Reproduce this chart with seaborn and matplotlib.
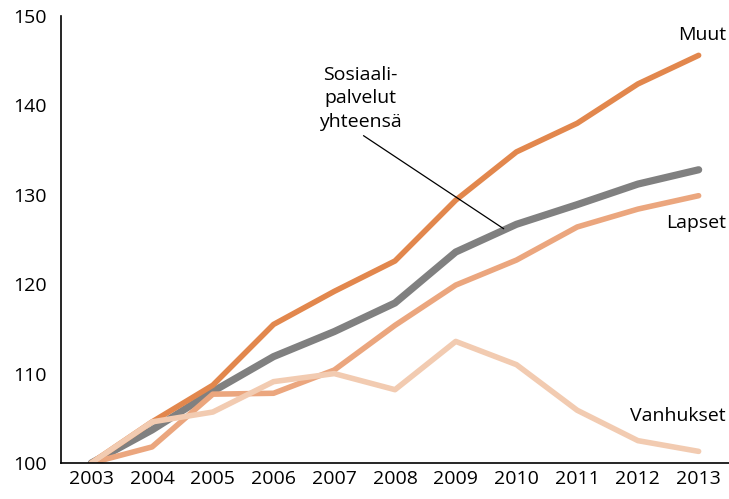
import matplotlib
matplotlib.use("Agg")
import matplotlib.pyplot as plt
import seaborn as sns
import pandas as pd

# Index 2003 = 100
years = [2003, 2004, 2005, 2006, 2007, 2008, 2009, 2010, 2011, 2012, 2013]
muut = [100, 104.6, 108.7, 115.5, 119.2, 122.6, 129.4, 134.8, 138.0, 142.4, 145.6]
yhteensa = [100, 103.7, 108.0, 111.9, 114.7, 117.9, 123.6, 126.7, 128.9, 131.2, 132.8]
lapset = [100, 101.8, 107.7, 107.8, 110.4, 115.4, 119.9, 122.7, 126.4, 128.4, 129.9]
vanhukset = [100, 104.6, 105.7, 109.1, 110.0, 108.2, 113.6, 111.0, 105.9, 102.5, 101.3]

series_names = ["Sosiaalipalvelut yhteensä", "Muut", "Lapset", "Vanhukset"]
series_values = [yhteensa, muut, lapset, vanhukset]
colors = {"Vanhukset": "#F2CBB1", "Lapset": "#EBA67E",
          "Sosiaalipalvelut yhteensä": "#808080", "Muut": "#E2874D"}
widths = {"Vanhukset": 4.0, "Lapset": 4.0, "Sosiaalipalvelut yhteensä": 5.2, "Muut": 4.0}
draw_order = ["Sosiaalipalvelut yhteensä", "Lapset", "Muut", "Vanhukset"]

rows = []
for name, vals in zip(series_names, series_values):
    for i, v in enumerate(vals):
        rows.append({"pos": i, "year": years[i], "value": v, "series": name})
df = pd.DataFrame(rows)

sns.set_style("white")
plt.rcParams["font.family"] = ["Open Sans", "DejaVu Sans"]
plt.rcParams["text.color"] = "black"
plt.rcParams["xtick.color"] = "black"
plt.rcParams["ytick.color"] = "black"

FS = 14

fig = plt.figure(figsize=(7.29, 4.99), dpi=100)
ax = fig.add_axes([61 / 729, 36 / 499, 668 / 729, 447 / 499])

for name in draw_order:
    sub = df[df["series"] == name]
    sns.lineplot(data=sub, x="pos", y="value", color=colors[name],
                 linewidth=widths[name], ax=ax, legend=False,
                 solid_capstyle="round", solid_joinstyle="round")

ax.set_xlim(-0.5, len(years) - 0.5)
ax.set_ylim(100, 150)
ax.set_yticks([100, 110, 120, 130, 140, 150])
ax.set_xticks([i + 0.5 for i in range(len(years))])
ax.set_xticklabels([])
ax.set_xticks(range(len(years)), minor=True)
ax.set_xticklabels([str(y) for y in years], minor=True)
ax.tick_params(axis="x", which="major", direction="in", length=6, width=0.8, color="#555555")
ax.tick_params(axis="x", which="minor", length=0, pad=5, labelsize=FS)
ax.tick_params(axis="y", direction="in", length=6, width=0.8, color="#555555",
               labelsize=FS, pad=10)
ax.set_xlabel("")
ax.set_ylabel("")
for s in ["top", "right"]:
    ax.spines[s].set_visible(False)
for s in ["left", "bottom"]:
    ax.spines[s].set_color("black")
    ax.spines[s].set_linewidth(1.2)

ax.text(10.45, 147.9, "Muut", ha="right", va="center", fontsize=FS)
ax.text(10.45, 126.8, "Lapset", ha="right", va="center", fontsize=FS)
ax.text(10.45, 105.3, "Vanhukset", ha="right", va="center", fontsize=FS)
ax.annotate("Sosiaali-\npalvelut\nyhteensä", xy=(6.79, 126.2), xytext=(4.43, 140.8),
            ha="center", va="center", fontsize=FS, linespacing=1.4,
            arrowprops=dict(arrowstyle="-", color="black", lw=0.9, shrinkA=2, shrinkB=0,
                            relpos=(0.45, 0.0)))

fig.savefig("out.png", dpi=100)
